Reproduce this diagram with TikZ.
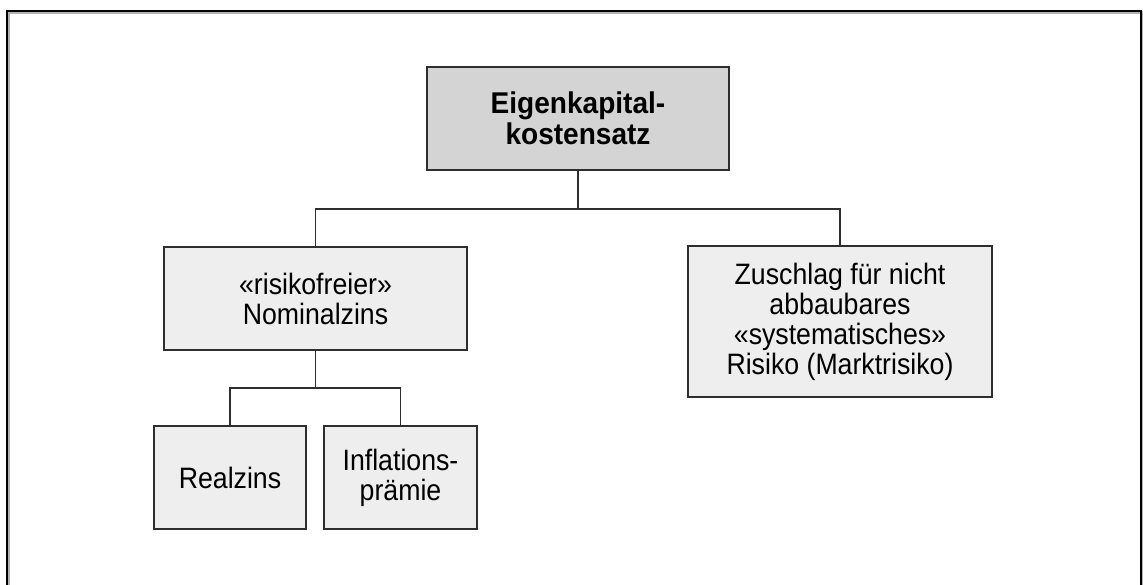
\documentclass[tikz,border=0pt]{standalone}
\usepackage{fontspec}
\setmainfont[FakeStretch=0.905]{Liberation Sans}
\newfontfamily\headfont[FakeStretch=0.935]{Liberation Sans}
\begin{document}
\begin{tikzpicture}[x=1pt,y=-1pt,
  box/.style={draw=boxline, line width=1.6pt, fill=boxfill, align=center,
    inner sep=0pt, font=\fontsize{29.5}{30}\selectfont},
  link/.style={draw=boxline, line width=1.5pt}]
\definecolor{boxline}{HTML}{2E2E2E}
\definecolor{boxfill}{HTML}{EEEEEE}
\definecolor{headfill}{HTML}{D4D4D4}
\useasboundingbox (0,0) rectangle (1143,584);
% outer frame, open at the bottom
\begin{scope}
\clip (0,0) rectangle (1143,584);
\draw[gray!60, line width=3pt] (8.5,600) -- (8.5,12.5) -- (1142.5,12.5) -- (1142.5,600);
\draw[black, line width=2.2pt] (7,600) -- (7,11) -- (1141,11) -- (1141,600);
\end{scope}
% boxes
\node[box, fill=headfill, minimum width=302pt, minimum height=103pt,
  font=\headfont\fontsize{30}{31}\selectfont\bfseries] (top) at (578,118.5)
  {Eigenkapital-\\kostensatz};
\node[box, minimum width=303pt, minimum height=103pt] (nominal) at (315.5,298.5)
  {«risikofreier»\\Nominalzins};
\node[box, minimum width=304pt, minimum height=151pt] (markt) at (840,321.5)
  {Zuschlag für nicht\\abbaubares\\«systematisches»\\Risiko (Marktrisiko)};
\node[box, minimum width=152pt, minimum height=103pt] (real) at (230,477.5)
  {Realzins};
\node[box, minimum width=153pt, minimum height=103pt] (infl) at (400.5,477.5)
  {Inflations-\\prämie};
% connectors
\coordinate (j1) at (578,209);
\coordinate (j2) at (315.5,388);
\draw[link] (top.south) -- (top.south |- j1);
\draw[link] (nominal.north) -- (nominal.north |- j1) -- (markt.north |- j1) -- (markt.north);
\draw[link] (nominal.south) -- (nominal.south |- j2);
\draw[link] (real.north) -- (real.north |- j2) -- (infl.north |- j2) -- (infl.north);
\end{tikzpicture}
\end{document}
